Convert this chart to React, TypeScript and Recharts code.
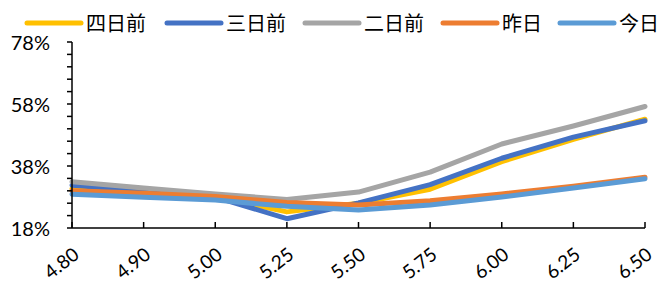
import React from 'react';
import { LineChart, Line, XAxis, YAxis } from 'recharts';

const categories = ['4.80', '4.90', '5.00', '5.25', '5.50', '5.75', '6.00', '6.25', '6.50'];
const fourDaysAgo = [30.7, 29.5, 28.0, 23.2, 26.0, 30.5, 39.4, 46.6, 53.1];
const threeDaysAgo = [31.8, 30.0, 28.0, 21.0, 26.1, 32.0, 40.5, 47.3, 52.6];
const twoDaysAgo = [32.9, 30.9, 29.0, 27.2, 29.6, 36.0, 45.1, 50.9, 57.2];
const yesterday = [30.0, 29.2, 28.2, 26.2, 25.4, 26.8, 29.0, 31.5, 34.4];
const today = [28.9, 27.9, 27.0, 25.0, 23.8, 25.4, 28.0, 30.9, 33.9];

const seriesNames = ['四日前', '三日前', '二日前', '昨日', '今日'];
const seriesKeys = ['d4', 'd3', 'd2', 'd1', 'd0'];
const seriesColors = ['#FFC000', '#4472C4', '#A5A5A5', '#ED7D31', '#5B9BD5'];
const seriesValues = [fourDaysAgo, threeDaysAgo, twoDaysAgo, yesterday, today];

const yTicks = [18, 22, 26, 30, 34, 38, 42, 46, 50, 54, 58, 62, 66, 70, 74, 78];
const yLabelTicks = [18, 38, 58, 78];

const data = categories.map((c, i) => {
  const row: any = { cat: c };
  seriesKeys.forEach((k, s) => {
    row[k] = seriesValues[s][i];
  });
  return row;
});

const FONT = 'Lato, "Noto Sans CJK SC", sans-serif';

const YTick = (props: any) => {
  const { x, y, payload } = props;
  if (!yLabelTicks.includes(payload.value)) return null;
  return (
    <text x={x} y={y} textAnchor="end" dominantBaseline="central" fontSize={20} fontFamily={FONT} fill="#000">
      {payload.value}%
    </text>
  );
};

const XTick = (props: any) => {
  const { x, y, payload } = props;
  const ax = x - 1;
  const ay = y + 17;
  return (
    <g>
      <line x1={x} x2={x} y1={y} y2={y - 6} stroke="#000" strokeWidth={1.5} />
      <text
        x={ax}
        y={ay}
        textAnchor="end"
        dominantBaseline="hanging"
        fontSize={19}
        fontFamily={FONT}
        fill="#000"
        transform={`rotate(-38 ${ax} ${ay})`}
      >
        {payload.value}
      </text>
    </g>
  );
};

const legendLineX = [27, 167, 305, 443, 560];

export default function App() {
  return (
    <div style={{ position: 'absolute', left: 0, top: 0, width: 659, height: 285, background: '#fff' }}>
      <svg width={659} height={40} style={{ position: 'absolute', left: 0, top: 0 }}>
        {seriesNames.map((n, i) => (
          <g key={n}>
            <line
              x1={legendLineX[i]}
              x2={legendLineX[i] + 54}
              y1={23}
              y2={23}
              stroke={seriesColors[i]}
              strokeWidth={5}
              strokeLinecap="round"
            />
            <text
              x={legendLineX[i] + 59}
              y={23}
              dominantBaseline="central"
              fontSize={20}
              fontFamily={FONT}
              fill="#000"
            >
              {n}
            </text>
          </g>
        ))}
      </svg>
      <div style={{ position: 'absolute', left: 0, top: 0 }}>
        <LineChart width={659} height={285} data={data} margin={{ top: 42, right: 14, left: 0, bottom: 0 }}>
          <XAxis
            dataKey="cat"
            height={57}
            axisLine={{ stroke: '#000', strokeWidth: 1.5 }}
            tickLine={false}
            tickSize={0}
            tickMargin={0}
            tick={<XTick />}
            interval={0}
          />
          <YAxis
            width={72}
            domain={[18, 78]}
            ticks={yTicks}
            interval={0}
            axisLine={{ stroke: '#000', strokeWidth: 1.5 }}
            tickLine={{ stroke: '#000', strokeWidth: 1.5 }}
            tickSize={5}
            tickMargin={17}
            tick={<YTick />}
            allowDataOverflow
          />
          {seriesKeys.map((k, i) => (
            <Line
              key={k}
              dataKey={k}
              name={seriesNames[i]}
              type="linear"
              stroke={seriesColors[i]}
              strokeWidth={5}
              strokeLinecap="round"
              strokeLinejoin="round"
              dot={false}
              activeDot={false}
              isAnimationActive={false}
            />
          ))}
        </LineChart>
      </div>
    </div>
  );
}
